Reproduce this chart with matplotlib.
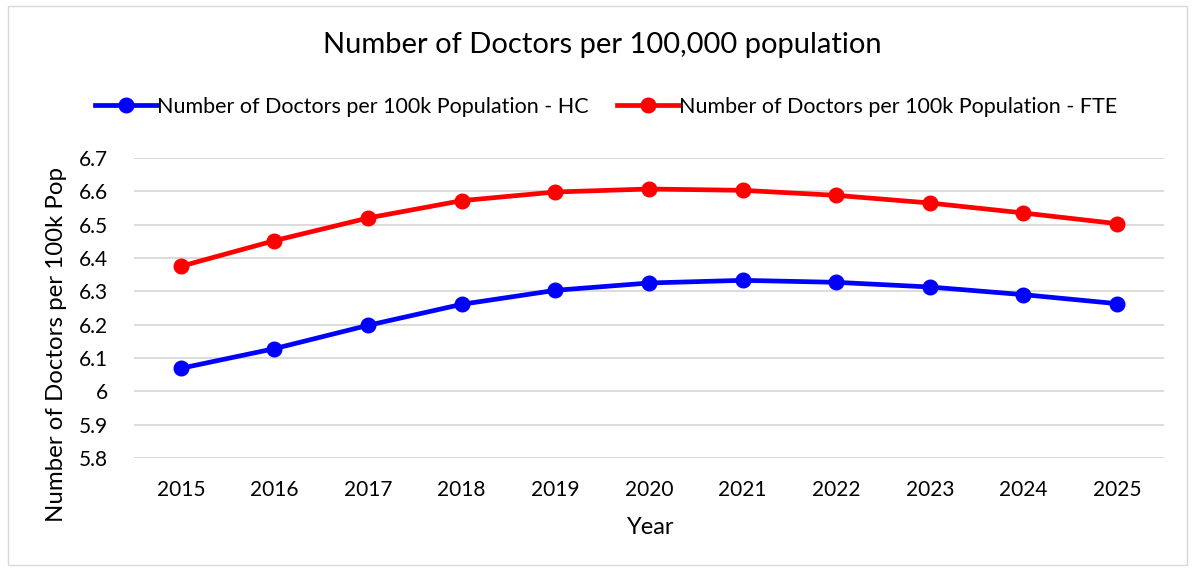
import matplotlib.pyplot as plt
from matplotlib.patches import Rectangle
from matplotlib.ticker import FuncFormatter

plt.rcParams['font.family'] = ['Lato', 'DejaVu Sans']

# Doctors per 100k population, by year
years = ['2015', '2016', '2017', '2018', '2019', '2020', '2021', '2022', '2023', '2024', '2025']
hc = [6.069, 6.128, 6.198, 6.261, 6.303, 6.325, 6.333, 6.327, 6.313, 6.290, 6.263]
fte = [6.375, 6.452, 6.520, 6.572, 6.598, 6.607, 6.603, 6.588, 6.565, 6.535, 6.503]
y_ticks = [5.8, 5.9, 6.0, 6.1, 6.2, 6.3, 6.4, 6.5, 6.6, 6.7]

fig = plt.figure(figsize=(11.95, 5.71), dpi=100)
ax = fig.add_axes([0.1121, 0.1979, 0.8619, 0.5254])

x = range(len(years))
ax.plot(x, hc, color='#0000ff', lw=3.4, marker='o', ms=10.5,
        label='Number of Doctors per 100k Population - HC', zorder=3)
ax.plot(x, fte, color='#ff0000', lw=3.4, marker='o', ms=10.5,
        label='Number of Doctors per 100k Population - FTE', zorder=3)

ax.set_xlim(-0.5, len(years) - 0.5)
ax.set_ylim(5.8, 6.7)
ax.set_xticks(list(x))
ax.set_xticklabels(years)
ax.set_yticks(y_ticks)
ax.yaxis.set_major_formatter(FuncFormatter(lambda v, p: f'{v:g}'))
ax.grid(axis='y', color='#d9d9d9', lw=1.3)
ax.set_axisbelow(True)
for s in ax.spines.values():
    s.set_visible(False)
ax.tick_params(length=0, labelsize=15, colors='black')
ax.tick_params(axis='x', pad=16)
ax.tick_params(axis='y', pad=19)

fig.text(651 / 1195, 1 - 528 / 571, 'Year', ha='center', va='center', fontsize=17)
fig.text(57 / 1195, 1 - 345 / 571, 'Number of Doctors per 100k Pop', ha='center',
         va='center', rotation=90, fontsize=17.3)
fig.text(602 / 1195, 1 - 45 / 571, 'Number of Doctors per 100,000 population',
         ha='center', va='center', fontsize=21)

fig.legend(loc='center', bbox_to_anchor=(606 / 1195, 1 - 107 / 571), ncol=2,
           frameon=False, fontsize=15.5, handlelength=2.9, handletextpad=0.0,
           columnspacing=1.3)

# light chart border
fig.patches.append(Rectangle((8 / 1195, 6 / 571), 1 - 16 / 1195, 1 - 12 / 571,
                             transform=fig.transFigure, fill=False,
                             edgecolor='#d9d9d9', lw=1))

fig.savefig('out.png', dpi=100)
